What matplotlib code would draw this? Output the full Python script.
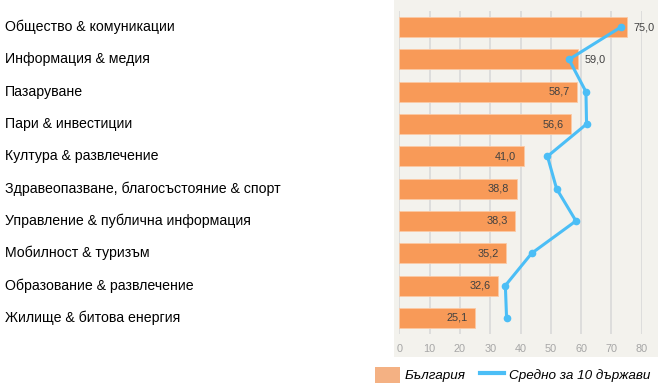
import matplotlib
matplotlib.use("Agg")
import matplotlib.pyplot as plt
import matplotlib.transforms as mtrans
from matplotlib.patches import Rectangle, Patch
from matplotlib.lines import Line2D

categories = [
    "Общество & комуникации",
    "Информация & медия",
    "Пазаруване",
    "Пари & инвестиции",
    "Култура & развлечение",
    "Здравеопазване, благосъстояние & спорт",
    "Управление & публична информация",
    "Мобилност & туризъм",
    "Образование & развлечение",
    "Жилище & битова енергия",
]
bulgaria = [75.0, 59.0, 58.7, 56.6, 41.0, 38.8, 38.3, 35.2, 32.6, 25.1]
average10 = [73.1, 56.0, 61.6, 61.8, 48.9, 51.9, 58.3, 43.7, 35.0, 35.4]
xticks = [0, 10, 20, 30, 40, 50, 60, 70, 80]
series_names = ["България", "Средно за 10 държави"]

W, H = 661, 390
fig = plt.figure(figsize=(W / 100, H / 100), dpi=100)
fig.patch.set_facecolor("white")

# panel background
fig.patches.append(Rectangle((394 / W, (H - 357) / H), (658 - 394) / W, 357 / H,
                             transform=fig.transFigure, facecolor="#f3f2ed",
                             edgecolor="none", zorder=-5))

ax = fig.add_axes([399.3 / W, (H - 334) / H, 242.4 / W, 323 / H])
ax.set_zorder(2)
ax.set_facecolor("none")
ypos = list(range(len(categories)))
ax.barh(ypos, bulgaria, height=0.62, color="#F89A58", edgecolor="#fbc9a4",
        linewidth=0.6, zorder=2)
ax.plot(average10, ypos, color="#4BBEF6", lw=2.2, marker="o", ms=4.5, zorder=3)

ax.set_xlim(0, 80)
ax.set_ylim(len(categories) - 0.5, -0.5)
ax.set_xticks(xticks)
ax.set_xticklabels([str(t) for t in xticks], color="#a6a6a6", fontsize=7.8,
                   family="Liberation Sans")
ax.tick_params(axis="x", length=0, pad=7)
ax.set_yticks([])
for s in ax.spines.values():
    s.set_visible(False)
ax.xaxis.grid(True, color="#d9d9d9", lw=1.2, zorder=1)
ax.set_axisbelow(True)

for i, v in enumerate(bulgaria):
    lab = f"{v:.1f}".replace(".", ",")
    if i < 2:
        ax.text(v + 2.2, i, lab, ha="left", va="center", fontsize=7.8,
                color="#404040", family="Liberation Sans", zorder=4)
    else:
        ax.text(v - 2.5, i, lab, ha="right", va="center", fontsize=7.8,
                color="#404040", family="Liberation Sans", zorder=4)

# category labels on the left
trans = mtrans.blended_transform_factory(fig.transFigure, ax.transData)
for i, c in enumerate(categories):
    ax.text(5 / W, i, c, transform=trans, ha="left", va="center",
            fontsize=10.2, color="black", family="Liberation Sans", clip_on=False)

handles = [Patch(facecolor="#F4B183", edgecolor="none"),
           Line2D([0], [0], color="#4BBEF6", lw=3)]
leg = fig.legend(handles, series_names, loc="center",
                 bbox_to_anchor=(513 / W, (H - 375) / H), ncol=2, frameon=False,
                 prop={"family": "Liberation Sans", "style": "italic", "size": 9.7},
                 handlelength=1.8, handleheight=1.5, columnspacing=1.0,
                 handletextpad=0.4)

fig.savefig("out.png", dpi=100)
